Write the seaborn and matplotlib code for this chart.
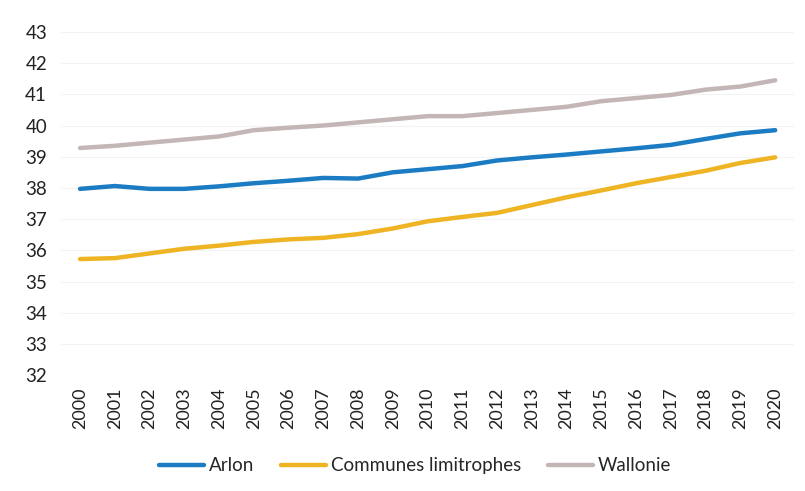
import numpy as np
import pandas as pd
import matplotlib
matplotlib.use("Agg")
import matplotlib.pyplot as plt
import seaborn as sns

years = list(range(2000, 2021))
arlon = [37.97, 38.06, 37.97, 37.97, 38.05, 38.15, 38.23, 38.32, 38.30, 38.50, 38.60,
         38.70, 38.88, 38.98, 39.07, 39.17, 39.27, 39.38, 39.57, 39.75, 39.85]
communes = [35.72, 35.75, 35.90, 36.05, 36.15, 36.27, 36.35, 36.40, 36.52, 36.70, 36.93,
            37.07, 37.20, 37.45, 37.70, 37.92, 38.15, 38.35, 38.55, 38.80, 38.98]
wallonie = [39.28, 39.35, 39.45, 39.55, 39.65, 39.85, 39.93, 40.00, 40.10, 40.20, 40.30,
            40.30, 40.40, 40.50, 40.60, 40.78, 40.88, 40.98, 41.15, 41.25, 41.45]
series_names = ["Arlon", "Communes limitrophes", "Wallonie"]
y_ticks = list(range(32, 44))

df = pd.DataFrame({
    "Année": years * 3,
    "Âge": arlon + communes + wallonie,
    "Zone": [series_names[0]] * len(years) + [series_names[1]] * len(years)
            + [series_names[2]] * len(years),
})

sns.set_style("white")
plt.rcParams["font.family"] = ["Lato", "DejaVu Sans"]

palette = {"Arlon": "#1b7cc4", "Communes limitrophes": "#eeb424", "Wallonie": "#c4b6b6"}

fig = plt.figure(figsize=(8.05, 4.91), dpi=100)
ax = fig.add_axes([0.0757, 0.236, 0.911, 0.699])

sns.lineplot(data=df, x="Année", y="Âge", hue="Zone", palette=palette,
             linewidth=3.2, ax=ax, legend=True)

ax.set_ylim(32, 43)
ax.set_xlim(1999.45, 2020.55)
ax.set_yticks(y_ticks)
ax.set_xticks(years)
ax.set_xticklabels([str(y) for y in years], rotation=90)
ax.tick_params(axis="y", length=0, labelsize=13.5, colors="#222222", pad=10)
ax.tick_params(axis="x", length=0, labelsize=13, colors="#222222", pad=9)
ax.grid(axis="y", color="#f3f3f3", linewidth=0.8)
for s in ax.spines.values():
    s.set_visible(False)
ax.set_xlabel("")
ax.set_ylabel("")

leg = ax.legend(loc="upper center", bbox_to_anchor=(0.483, -0.19), ncol=3,
                frameon=False, fontsize=13.5, handlelength=2.4, handletextpad=0.25,
                columnspacing=1.45)
for line in leg.get_lines():
    line.set_linewidth(3.2)

fig.savefig("out.png", dpi=100, facecolor="white")
